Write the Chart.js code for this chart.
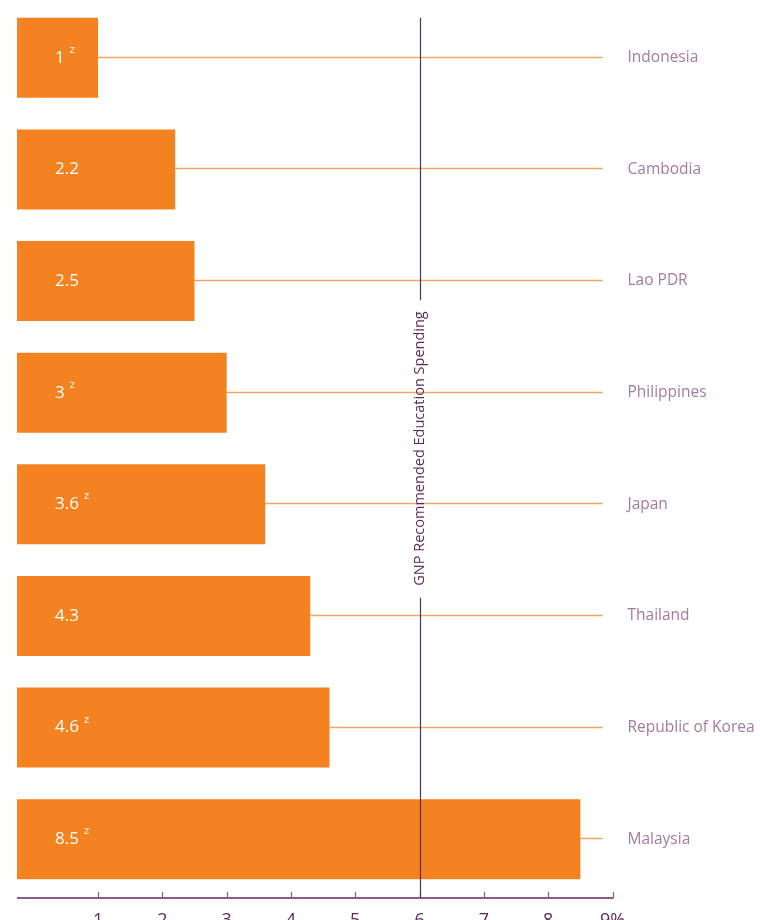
<!DOCTYPE html>
<html>
<head>
<meta charset="utf-8">
<script src="https://cdn.jsdelivr.net/npm/chart.js@4/dist/chart.umd.min.js"></script>
<style>
  html, body { margin: 0; padding: 0; background: #ffffff; }
  #wrap { width: 760px; height: 920px; position: relative; }
</style>
</head>
<body>
<div id="wrap"><canvas id="c" width="760" height="920"></canvas></div>
<script>
// ---- data ----
const countries = ["Indonesia", "Cambodia", "Lao PDR", "Philippines", "Japan", "Thailand", "Republic of Korea", "Malaysia"];
const spending = [1, 2.2, 2.5, 3, 3.6, 4.3, 4.6, 8.5];
const footnote = ["z", "", "", "z", "z", "", "z", "z"];
const tickValues = [1, 2, 3, 4, 5, 6, 7, 8, 9];
const tickLabels = ["1", "2", "3", "4", "5", "6", "7", "8", "9%"];
const recommended = 6;
const recommendedLabel = "GNP Recommended Education Spending";

const X_MIN = -0.26, X_MAX = 9;
const ORANGE = "#f58220";
const CONNECT = "#f4a466";
const DARK_PURPLE = "#5c2a5b";
const AXIS_PURPLE = "#8d5a8c";
const LABEL_PURPLE = "#a57ba2";
const FONT = "'Open Sans', 'DejaVu Sans', sans-serif";

const overlay = {
  id: "overlay",
  beforeDatasetsDraw(chart) {
    const ctx = chart.ctx, x = chart.scales.x, y = chart.scales.y;
    const area = chart.chartArea;
    ctx.save();
    ctx.strokeStyle = CONNECT;
    ctx.lineWidth = 1.5;
    spending.forEach((v, i) => {
      const py = Math.round(y.getPixelForValue(i)) - 0.5;
      ctx.beginPath();
      ctx.moveTo(x.getPixelForValue(v), py);
      ctx.lineTo(area.right - 10, py);
      ctx.stroke();
    });
    ctx.restore();
  },
  afterDatasetsDraw(chart) {
    const ctx = chart.ctx, x = chart.scales.x, y = chart.scales.y;
    const area = chart.chartArea;
    const axisY = area.bottom + 3;
    ctx.save();
    // axis line
    ctx.strokeStyle = AXIS_PURPLE;
    ctx.lineWidth = 2;
    ctx.beginPath();
    ctx.moveTo(area.left, axisY);
    ctx.lineTo(x.getPixelForValue(X_MAX) + 1, axisY);
    ctx.stroke();
    // tick marks (inside, upward)
    ctx.lineWidth = 1.2;
    tickValues.forEach(v => {
      const px = Math.round(x.getPixelForValue(v)) + 0.5;
      ctx.beginPath();
      ctx.moveTo(px, axisY);
      ctx.lineTo(px, axisY - 6);
      ctx.stroke();
    });
    // recommended line
    const rx = Math.round(x.getPixelForValue(recommended)) + 0.5;
    const midY = (area.top + area.bottom) / 2;
    ctx.font = "14.5px " + FONT;
    const tw = ctx.measureText(recommendedLabel).width;
    const gapTop = midY - tw / 2 - 11, gapBot = midY + tw / 2 + 12;
    ctx.strokeStyle = DARK_PURPLE;
    ctx.lineWidth = 1.2;
    const topY = y.getPixelForValue(0) - 40;
    ctx.beginPath();
    ctx.moveTo(rx, topY); ctx.lineTo(rx, gapTop);
    ctx.moveTo(rx, gapBot); ctx.lineTo(rx, axisY);
    ctx.stroke();
    ctx.translate(rx - 1, midY);
    ctx.rotate(-Math.PI / 2);
    ctx.fillStyle = DARK_PURPLE;
    ctx.textAlign = "center";
    ctx.textBaseline = "middle";
    ctx.fillText(recommendedLabel, 0, 0);
    ctx.restore();

    // value labels
    ctx.save();
    ctx.fillStyle = "#ffffff";
    ctx.textBaseline = "middle";
    ctx.textAlign = "left";
    spending.forEach((v, i) => {
      const py = y.getPixelForValue(i);
      const lx = area.left + 38;
      ctx.font = "500 17px " + FONT;
      const s = String(v);
      ctx.fillText(s, lx, py);
      const w = ctx.measureText(s).width;
      if (footnote[i]) {
        ctx.font = "11px " + FONT;
        ctx.fillText(footnote[i], lx + w + 5, py - 8);
      }
    });
    ctx.restore();
  }
};

new Chart(document.getElementById("c"), {
  type: "bar",
  data: {
    labels: countries,
    datasets: [{
      data: spending,
      base: X_MIN,
      backgroundColor: ORANGE,
      borderWidth: 0,
      barPercentage: 0.717,
      categoryPercentage: 1
    }]
  },
  options: {
    indexAxis: "y",
    responsive: false,
    animation: false,
    devicePixelRatio: 1,
    layout: { padding: { top: 2, left: 17, right: 0, bottom: 0 } },
    plugins: { legend: { display: false }, tooltip: { enabled: false } },
    scales: {
      x: {
        type: "linear",
        position: "bottom",
        min: X_MIN,
        max: X_MAX,
        grid: { display: false, drawTicks: false },
        border: { display: false },
        afterBuildTicks(scale) { scale.ticks = tickValues.map(v => ({ value: v })); },
        afterFit(scale) { scale.height = 25; scale.paddingLeft = 0; scale.paddingRight = 0; },
        ticks: {
          autoSkip: false,
          maxRotation: 0,
          padding: 15,
          color: DARK_PURPLE,
          font: { family: FONT, size: 18 },
          callback(value) { const i = tickValues.indexOf(value); return i >= 0 ? tickLabels[i] : ""; }
        }
      },
      y: {
        type: "category",
        position: "right",
        grid: { display: false, drawTicks: false },
        border: { display: false },
        afterFit(scale) { scale.width = 147.5; scale.paddingTop = 0; scale.paddingBottom = 0; },
        ticks: {
          padding: 15,
          color: LABEL_PURPLE,
          font: { family: FONT, size: 15.5 }
        }
      }
    }
  },
  plugins: [overlay]
});
</script>
</body>
</html>
